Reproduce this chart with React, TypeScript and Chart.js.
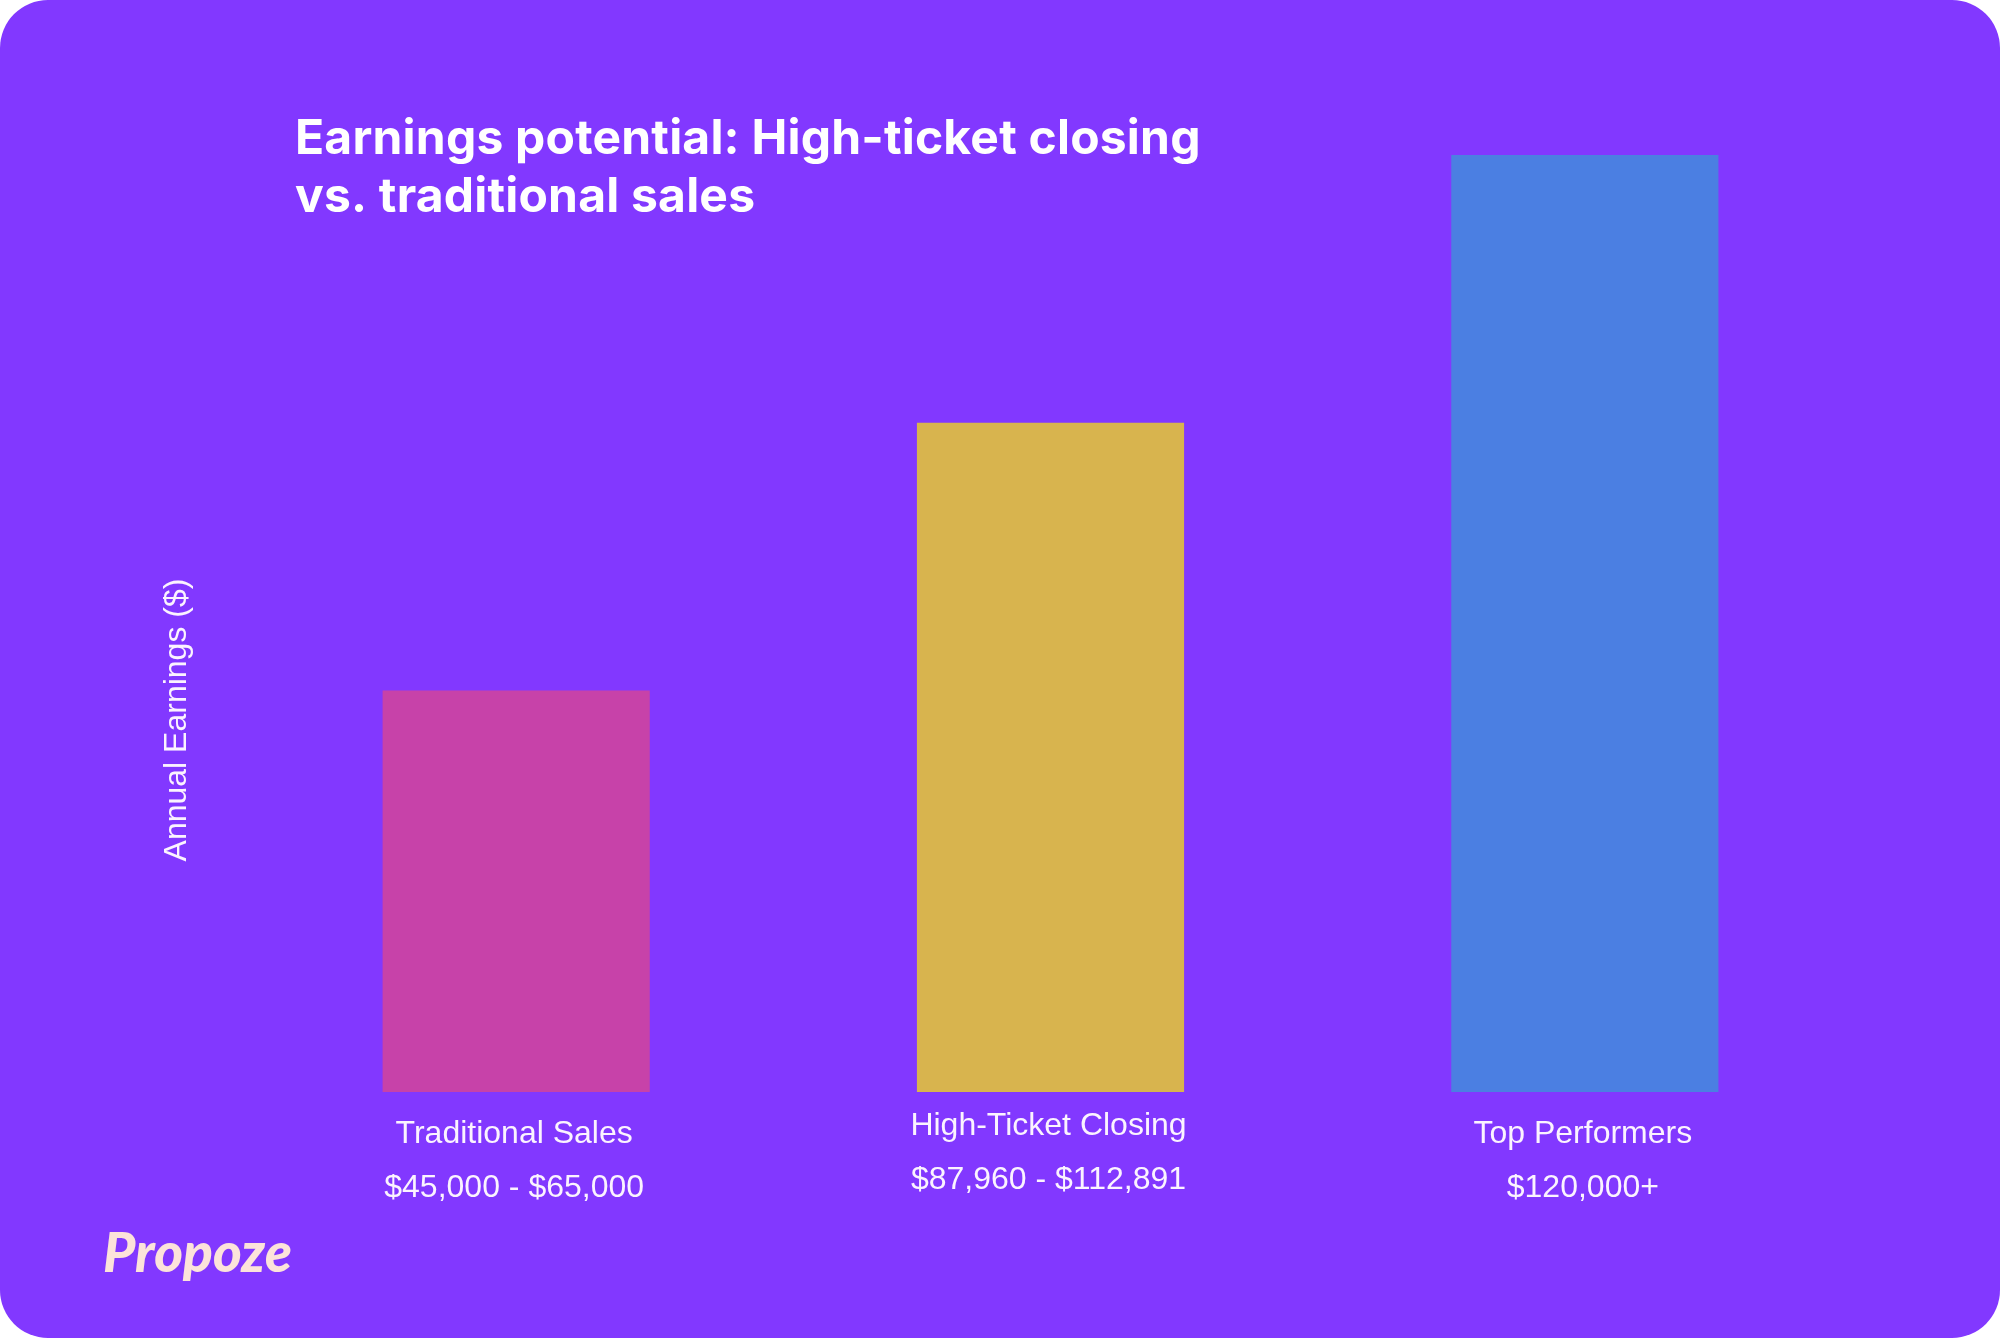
import { useEffect, useRef } from "react";
import { Chart, registerables } from "chart.js";

Chart.register(...registerables);

// ---- data ----
const categories = ["Traditional Sales", "High-Ticket Closing", "Top Performers"];
const rangeLabels = ["$45,000 - $65,000", "$87,960 - $112,891", "$120,000+"];
const earnings = [60000, 100000, 140000];
const yMax = 140000;
const titleLines = ["Earnings potential: High-ticket closing", "vs. traditional sales"];
const yAxisTitle = "Annual Earnings ($)";
const brand = "Propoze";

// ---- styles ----
const barColors = ["#C742A9", "#D8B44E", "#4B7FE2"];
const bgColor = "#8238FF";
const textColor = "#FBF3FF";
const brandColor = "#FCE3DA";
const labelShift = [0, -8, 0];

const overlay = {
  id: "overlay",
  afterDraw(chart: any) {
    const { ctx, chartArea, scales } = chart;
    ctx.save();
    // title
    ctx.fillStyle = "#FFFFFF";
    ctx.font = "700 48px Inter";
    ctx.textAlign = "left";
    ctx.textBaseline = "alphabetic";
    (ctx as any).letterSpacing = "0.2px";
    titleLines.forEach((t, i) => ctx.fillText(t, 295, 154 + i * 58));
    (ctx as any).letterSpacing = "0px";

    // category labels
    ctx.font = "32px 'Liberation Sans', Arial, sans-serif";
    ctx.textAlign = "center";
    ctx.fillStyle = textColor;
    categories.forEach((c, i) => {
      const x = scales.x.getPixelForValue(i);
      const y0 = chartArea.bottom + 51 + labelShift[i];
      ctx.fillText(c, x - 2, y0);
      ctx.fillText(rangeLabels[i], x - 2, y0 + 54);
    });

    // y axis title
    ctx.save();
    ctx.translate(177, 720);
    ctx.rotate(-Math.PI / 2);
    ctx.textBaseline = "middle";
    ctx.textAlign = "center";
    ctx.fillText(yAxisTitle, 0, 0);
    ctx.restore();

    // brand
    ctx.font = "italic 900 55px Lato";
    ctx.textAlign = "left";
    ctx.textBaseline = "alphabetic";
    ctx.fillStyle = brandColor;
    ctx.fillText(brand, 103, 1272);
    ctx.restore();
  },
};

export default function App() {
  const ref = useRef<HTMLCanvasElement | null>(null);
  useEffect(() => {
    if (!ref.current) return;
    const chart = new Chart(ref.current, {
      type: "bar",
      data: {
        labels: categories,
        datasets: [
          {
            data: earnings,
            backgroundColor: barColors,
            borderWidth: 0,
            barPercentage: 0.5,
            categoryPercentage: 1.0,
          },
        ],
      },
      options: {
        responsive: false,
        animation: false,
        devicePixelRatio: 1,
        layout: { padding: { left: 249, right: 148, top: 155, bottom: 246 } },
        scales: {
          x: { display: false },
          y: { display: false, min: 0, max: yMax },
        },
        plugins: {
          legend: { display: false },
          tooltip: { enabled: false },
          title: { display: false },
        },
      },
      plugins: [overlay],
    });
    return () => chart.destroy();
  }, []);

  return (
    <div style={{ position: "fixed", top: 0, left: 0, width: 2000, height: 1338, background: "#FFFFFF" }}>
      <div
        style={{
          position: "absolute",
          inset: 0,
          borderRadius: 48,
          background: bgColor,
          overflow: "hidden",
        }}
      >
        <canvas ref={ref} width={2000} height={1338} style={{ display: "block" }} />
      </div>
    </div>
  );
}
